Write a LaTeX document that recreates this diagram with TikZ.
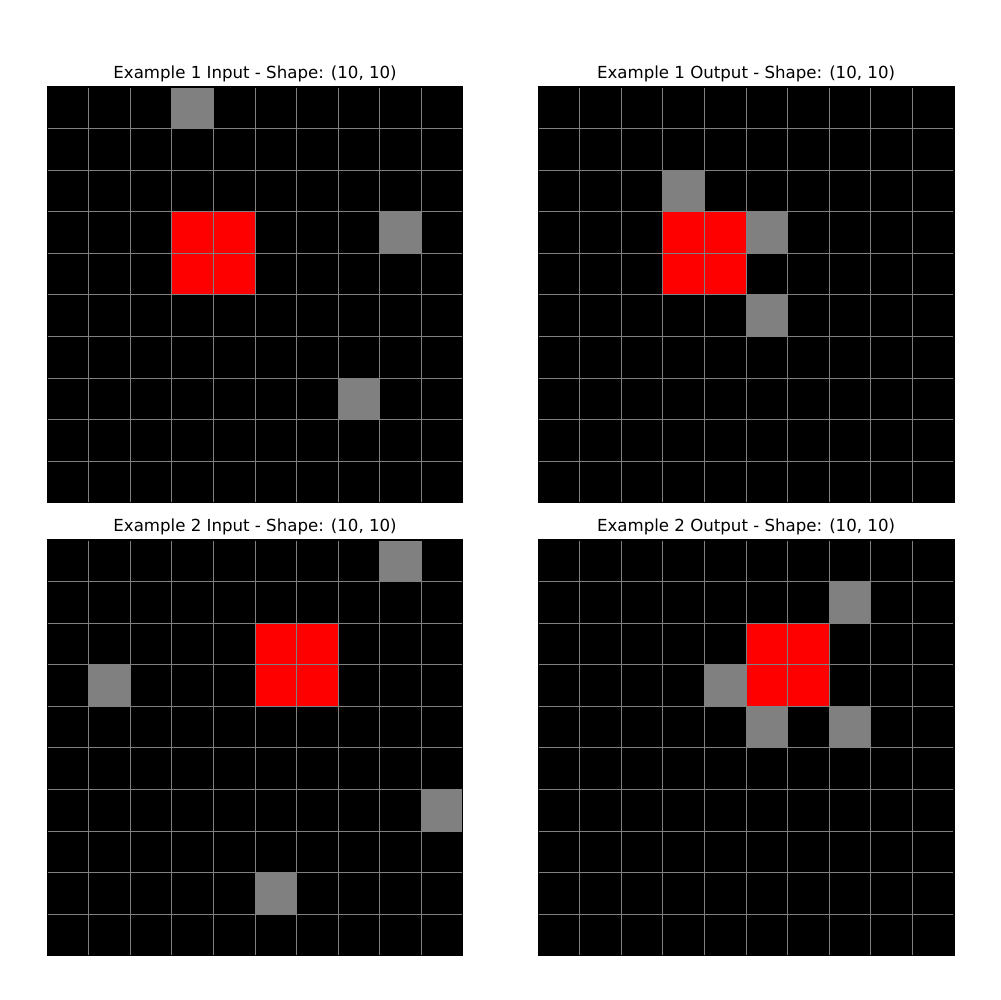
\documentclass[tikz,border=0pt]{standalone}
\usepackage{fontspec}
\setmainfont{DejaVu Sans}
\usetikzlibrary{positioning}
\definecolor{cellgray}{RGB}{128,128,128}
\definecolor{cellred}{RGB}{255,0,0}

\begin{document}
\begin{tikzpicture}[x=0.01in, y=-0.01in,
    gridline/.style={draw=cellgray, line width=0.7pt},
    frame/.style={draw=black, line width=0.8pt},
    paneltitle/.style={anchor=base, inner sep=0pt, font=\fontsize{12}{14}\selectfont}
  ]
  \useasboundingbox (0,0) rectangle (1000,1000);

  % four panels: name / left / top / title / gray cells / red cells
  \foreach \name/\px/\py/\label/\grays/\reds in {
      inA/47.2/87/{Example 1 Input - Shape: (10, 10)}/{3/0,8/3,7/7}/{3/3,4/3,3/4,4/4},
      outA/538.2/87/{Example 1 Output - Shape: (10, 10)}/{3/2,5/3,5/5}/{3/3,4/3,3/4,4/4},
      inB/47.2/540/{Example 2 Input - Shape: (10, 10)}/{8/0,1/3,9/6,5/8}/{5/2,6/2,5/3,6/3},
      outB/538.2/540/{Example 2 Output - Shape: (10, 10)}/{7/1,4/3,5/4,7/4}/{5/2,6/2,5/3,6/3}}{
    \begin{scope}[shift={(\px,\py)}, x=0.4155in, y=-0.4155in]
      \fill[black] (0,0) rectangle (10,10);
      \foreach \c/\r in \grays
        \fill[cellgray] (\c,\r) rectangle ++(1,1);
      \foreach \c/\r in \reds
        \fill[cellred] (\c,\r) rectangle ++(1,1);
      \foreach \k in {1,...,9} {
        \draw[gridline] (\k,0) -- (\k,10);
        \draw[gridline] (0,\k) -- (10,\k);
      }
      \draw[frame] (0,0) rectangle (10,10);
      \node[paneltitle] (\name) at (5,-0.195) {\label};
    \end{scope}
  }
\end{tikzpicture}
\end{document}
